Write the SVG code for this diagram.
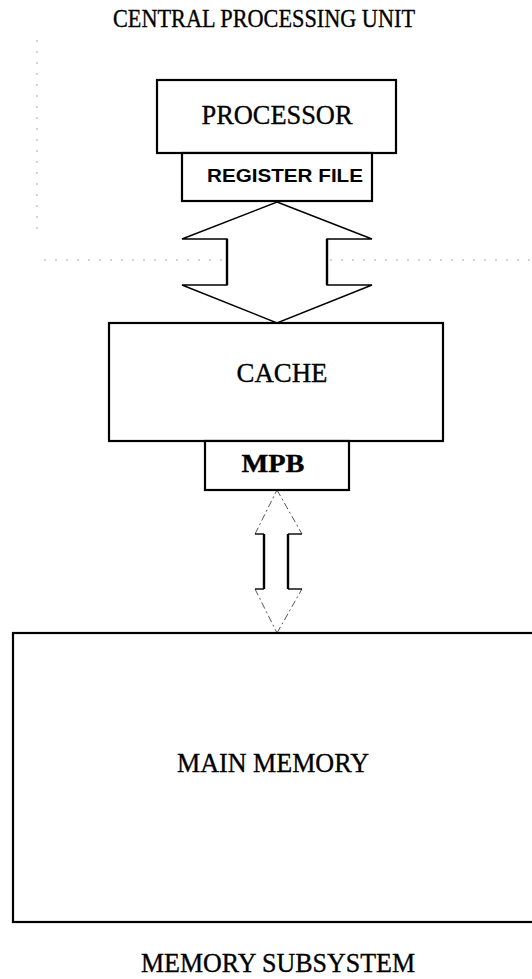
<svg xmlns="http://www.w3.org/2000/svg" width="532" height="979" viewBox="0 0 532 979">
<style>
.bg{fill:#fff}
.box{fill:#fff;stroke:#000;stroke-width:2.2}
.t{font-family:"Liberation Serif","Times New Roman",serif;fill:#000;stroke:#000;stroke-width:0.35;text-anchor:middle}
.s{font-family:"Liberation Sans",Arial,sans-serif;font-weight:bold;fill:#000;text-anchor:middle}
.arr{fill:#fff;stroke:#000;stroke-width:1.4;stroke-linejoin:miter}
.shaft{stroke:#000;stroke-width:2.4;fill:none}
.wing{stroke:#000;stroke-width:1.4;fill:none}
.faint{stroke:#555;stroke-width:1;fill:none;stroke-dasharray:7 3 2 3}
.dots{stroke:#aaa;stroke-width:1;fill:none;stroke-dasharray:2 9}
</style>
<rect class="bg" x="0" y="0" width="532" height="979"/>
<g id="artifacts">
<line class="dots" x1="37" y1="40" x2="37" y2="232"/>
<line class="dots" x1="44" y1="260" x2="532" y2="260"/>
</g>
<text id="title-cpu" class="t" x="264" y="27" font-size="26" textLength="302" lengthAdjust="spacingAndGlyphs">CENTRAL PROCESSING UNIT</text>
<g id="connectors">
<g id="bus-upper">
<polygon class="arr" points="277,202 372,239 327,239 327,285 372,285 277,323 182,285 227,285 227,239 182,239"/>
<line class="shaft" x1="227" y1="239" x2="227" y2="285"/>
<line class="shaft" x1="327" y1="239" x2="327" y2="285"/>
</g>
<g id="bus-lower">
<polygon fill="#fff" points="277,490 302,534 288,534 288,589 302,589 277,633 255,589 264,589 264,534 255,534"/>
<line class="faint" x1="255" y1="534" x2="277" y2="490"/>
<line class="faint" x1="277" y1="490" x2="302" y2="534"/>
<line class="faint" x1="255" y1="589" x2="277" y2="633"/>
<line class="faint" x1="277" y1="633" x2="302" y2="589"/>
<polyline class="wing" points="255,534 264,534"/>
<polyline class="wing" points="288,534 302,534"/>
<polyline class="wing" points="255,589 264,589"/>
<polyline class="wing" points="288,589 302,589"/>
<line class="shaft" x1="264" y1="534" x2="264" y2="589"/>
<line class="shaft" x1="288" y1="534" x2="288" y2="589"/>
</g>
</g>
<g id="processor">
<rect class="box" x="157" y="80" width="239" height="73"/>
<text class="t" x="277" y="124" font-size="28" textLength="151" lengthAdjust="spacingAndGlyphs">PROCESSOR</text>
</g>
<g id="register-file">
<rect class="box" x="182" y="153" width="190" height="48"/>
<text class="s" x="285" y="182" font-size="18" textLength="156" lengthAdjust="spacingAndGlyphs">REGISTER FILE</text>
</g>
<g id="cache">
<rect class="box" x="109" y="323" width="334" height="118"/>
<text class="t" x="282" y="382" font-size="28" textLength="91" lengthAdjust="spacingAndGlyphs">CACHE</text>
</g>
<g id="mpb">
<rect class="box" x="205" y="441" width="144" height="49"/>
<text class="t" x="273" y="472" font-size="25" font-weight="bold" textLength="63" lengthAdjust="spacingAndGlyphs">MPB</text>
</g>
<g id="main-memory">
<rect class="box" x="13" y="633" width="530" height="289"/>
<text class="t" x="273" y="772" font-size="27" textLength="192" lengthAdjust="spacingAndGlyphs">MAIN MEMORY</text>
</g>
<text id="title-memory" class="t" x="278" y="972" font-size="27" textLength="274" lengthAdjust="spacingAndGlyphs">MEMORY SUBSYSTEM</text>
</svg>
